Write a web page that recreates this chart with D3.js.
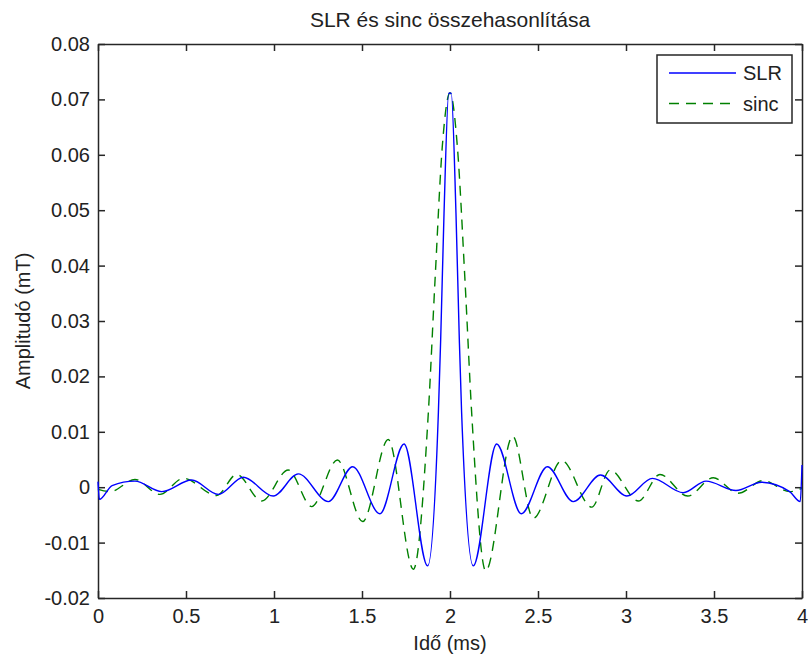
<!DOCTYPE html>
<html>
<head>
<meta charset="utf-8">
<script src="https://cdn.jsdelivr.net/npm/d3@7"></script>
<style>
  body { margin: 0; background: #fff; }
  text { font-family: "Liberation Sans", Arial, sans-serif; }
</style>
</head>
<body>
<div id="chart"></div>
<script>
// series: [time (ms), amplitude (mT)]
let slrTime = [0, 0.008, 0.08, 0.21, 0.362, 0.532, 0.684, 0.826, 0.996, 1.138, 1.309, 1.447, 1.602, 1.739, 1.873,
  1.934, 1.947, 1.966, 1.993, 2.007, 2.034, 2.053, 2.066, 2.132, 2.265, 2.405, 2.553, 2.70, 2.855, 3.005, 3.15,
  3.325, 3.455, 3.625, 3.77, 3.93, 3.99, 4.0];
let slrValues = [0.0010, -0.0022, 0.0003, 0.0011, -0.0008, 0.0013, -0.0013, 0.0018, -0.0016, 0.0024, -0.0026, 0.0037,
  -0.0048, 0.0078, -0.0142, 0.0135, 0.0266, 0.0494, 0.0711, 0.0711, 0.0494, 0.0266, 0.0135, -0.0142, 0.0078,
  -0.0048, 0.0037, -0.0026, 0.0022, -0.0016, 0.0016, -0.0010, 0.0011, -0.0006, 0.0009, -0.0008, -0.0026, 0.0040];

let sincTime = [0, 0.07, 0.21, 0.352, 0.485, 0.674, 0.788, 0.93, 1.081, 1.214, 1.36, 1.504, 1.649, 1.792, 1.877,
  1.915, 1.956, 2.0, 2.042, 2.085, 2.123, 2.203, 2.356, 2.473, 2.635, 2.805, 2.91, 3.07, 3.193, 3.35, 3.496,
  3.636, 3.78, 3.93, 4.0];
let sincValues = [-0.0004, -0.0008, 0.0014, -0.0013, 0.0016, -0.0015, 0.0023, -0.0025, 0.0031, -0.0035, 0.0049,
  -0.0062, 0.0086, -0.0148, 0.0135, 0.0374, 0.0614, 0.0712, 0.0614, 0.0374, 0.0135, -0.0151, 0.0092, -0.0056,
  0.0048, -0.0036, 0.0031, -0.0025, 0.0023, -0.0016, 0.0017, -0.0011, 0.0012, -0.0008, -0.0002];

let xTicks = [0, 0.5, 1, 1.5, 2, 2.5, 3, 3.5, 4];
let xTickLabels = ["0", "0.5", "1", "1.5", "2", "2.5", "3", "3.5", "4"];
let yTicks = [-0.02, -0.01, 0, 0.01, 0.02, 0.03, 0.04, 0.05, 0.06, 0.07, 0.08];
let yTickLabels = ["-0.02", "-0.01", "0", "0.01", "0.02", "0.03", "0.04", "0.05", "0.06", "0.07", "0.08"];

let seriesNames = ["SLR", "sinc"];

// layout
let margin = {top: 44, right: 6, bottom: 60, left: 98},
    width = 808 - margin.left - margin.right,
    height = 658 - margin.top - margin.bottom;

let svg = d3.select("#chart")
  .append("svg")
    .attr("width", 808)
    .attr("height", 658);

let g = svg.append("g")
    .attr("transform", "translate(" + margin.left + "," + margin.top + ")");

let x = d3.scaleLinear().domain([0, 4]).range([0, width]);
let y = d3.scaleLinear().domain([-0.02, 0.08]).range([height, 0]);

let axisColor = "#262626";
let fontSize = "20px";

function styleAxis(sel) {
  sel.select(".domain").attr("stroke", axisColor).attr("stroke-width", 1.5);
  sel.selectAll(".tick line").attr("stroke", axisColor).attr("stroke-width", 1.5);
  sel.selectAll(".tick text").attr("fill", "#222").style("font-size", fontSize);
  sel.attr("font-family", null);
}

// white plot background
g.append("rect").attr("width", width).attr("height", height).attr("fill", "#fff");

// bottom axis with labels, ticks pointing in
g.append("g")
  .attr("transform", "translate(0," + height + ")")
  .call(d3.axisBottom(x).tickValues(xTicks).tickSizeInner(-7).tickSizeOuter(0).tickPadding(11)
    .tickFormat(function(d, i) { return xTickLabels[i]; }))
  .call(styleAxis);

// top axis, ticks only
g.append("g")
  .call(d3.axisTop(x).tickValues(xTicks).tickSizeInner(-7).tickSizeOuter(0).tickFormat(""))
  .call(styleAxis);

// left axis with labels
g.append("g")
  .call(d3.axisLeft(y).tickValues(yTicks).tickSizeInner(-7).tickSizeOuter(0).tickPadding(8)
    .tickFormat(function(d, i) { return yTickLabels[i]; }))
  .call(styleAxis);

// right axis, ticks only
g.append("g")
  .attr("transform", "translate(" + width + ",0)")
  .call(d3.axisRight(y).tickValues(yTicks).tickSizeInner(-7).tickSizeOuter(0).tickFormat(""))
  .call(styleAxis);

// lines
let line = d3.line()
  .x(function(d) { return x(d[0]); })
  .y(function(d) { return y(d[1]); })
  .curve(d3.curveMonotoneX);

let sincData = sincTime.map(function(t, i) { return [t, sincValues[i]]; });
let slrData = slrTime.map(function(t, i) { return [t, slrValues[i]]; });

g.append("path")
  .datum(sincData)
  .attr("fill", "none")
  .attr("stroke", "#008000")
  .attr("stroke-width", 1.4)
  .attr("stroke-dasharray", "10,7")
  .attr("d", line);

g.append("path")
  .datum(slrData)
  .attr("fill", "none")
  .attr("stroke", "#0000ff")
  .attr("stroke-width", 1.4)
  .attr("d", line);

// title and axis labels
svg.append("text")
  .attr("x", margin.left + width / 2)
  .attr("y", 27)
  .attr("text-anchor", "middle")
  .style("font-size", "21px")
  .attr("fill", "#222")
  .text("SLR és sinc összehasonlítása");

svg.append("text")
  .attr("x", margin.left + width / 2)
  .attr("y", 650)
  .attr("text-anchor", "middle")
  .style("font-size", fontSize)
  .attr("fill", "#222")
  .text("Idő (ms)");

svg.append("text")
  .attr("transform", "translate(30," + (margin.top + height / 2) + ") rotate(-90)")
  .attr("text-anchor", "middle")
  .style("font-size", fontSize)
  .attr("fill", "#222")
  .text("Amplitudó (mT)");

// legend
let legend = svg.append("g").attr("transform", "translate(657,55)");
legend.append("rect")
  .attr("width", 135)
  .attr("height", 68)
  .attr("fill", "#fff")
  .attr("stroke", axisColor)
  .attr("stroke-width", 1.5);

let legendStyles = [{color: "#0000ff", dash: null}, {color: "#008000", dash: "10,7"}];
seriesNames.forEach(function(name, i) {
  let row = legend.append("g").attr("transform", "translate(0," + (18 + i * 30.5) + ")");
  row.append("line")
    .attr("x1", 12).attr("x2", 79)
    .attr("y1", 0).attr("y2", 0)
    .attr("stroke", legendStyles[i].color)
    .attr("stroke-width", 1.4)
    .attr("stroke-dasharray", legendStyles[i].dash);
  row.append("text")
    .attr("x", 86)
    .attr("y", 7)
    .style("font-size", fontSize)
    .attr("fill", "#222")
    .text(name);
});
</script>
</body>
</html>
